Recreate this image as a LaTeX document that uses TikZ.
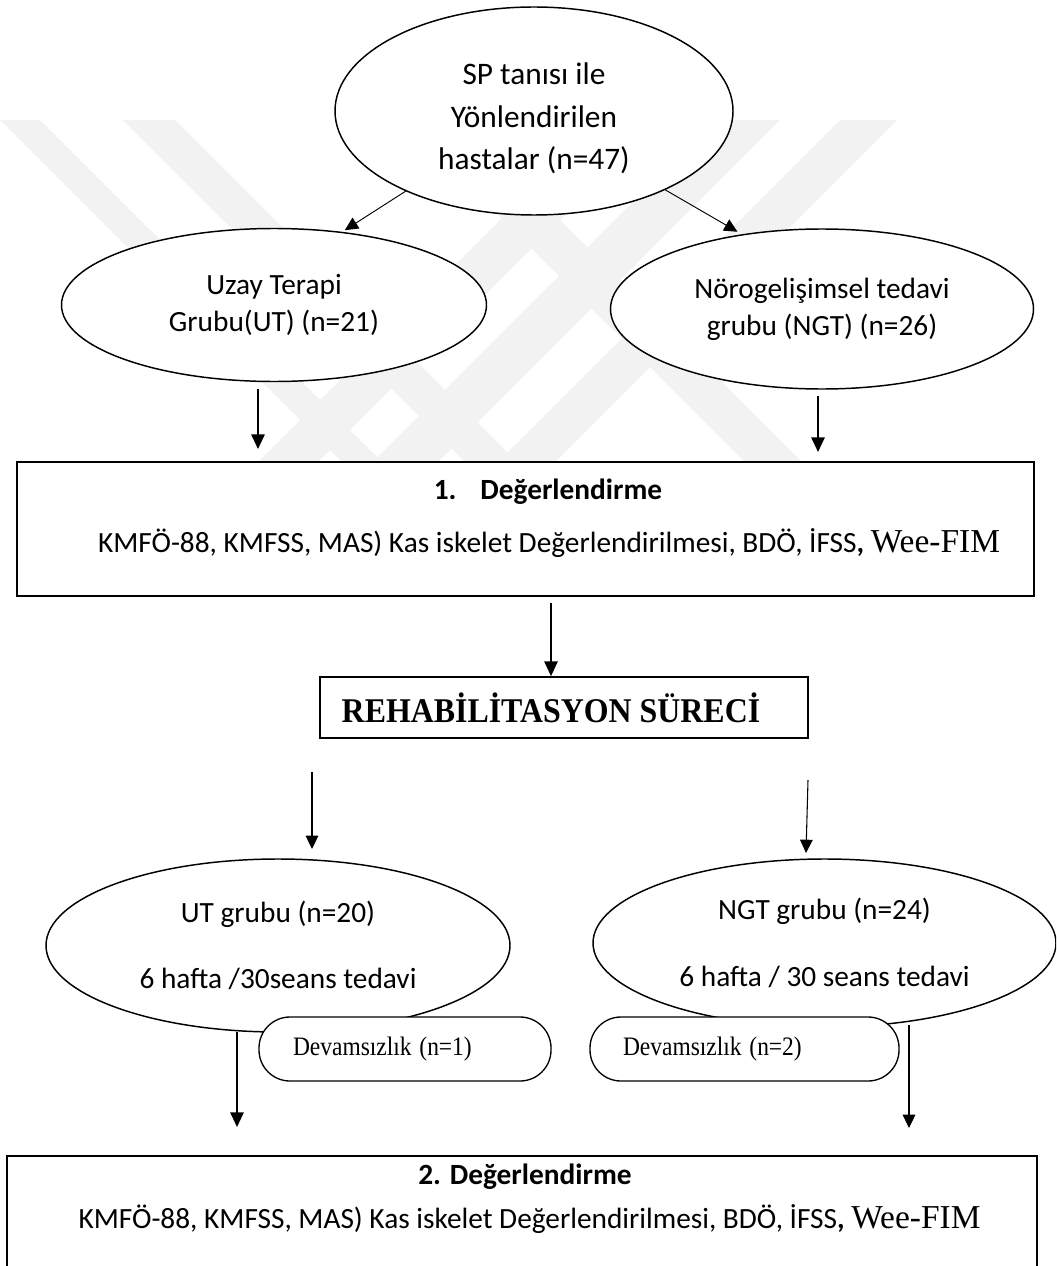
\documentclass[tikz,border=0pt]{standalone}
\usepackage{fontspec}
\setmainfont{Carlito}
\newfontfamily\tnr{Liberation Serif}
\usetikzlibrary{shapes.geometric,arrows.meta}
\newlength{\px}\setlength{\px}{0.75pt}
\begin{document}
\begin{tikzpicture}[x=0.75pt,y=-0.75pt,
  ell/.style={ellipse, draw, line width=1.1pt, fill=white, inner sep=0pt, align=center},
  boxs/.style={rectangle, draw, line width=1.5pt, fill=white, inner sep=0pt},
  txt/.style={inner sep=0pt, align=center},
  dev/.style={rectangle, rounded corners=31\px, draw, line width=1pt, fill=white, align=left, inner ysep=0pt, font=\tnr\fontsize{20pt}{24pt}\selectfont},
  arr/.style={-{Triangle[length=11pt,width=10pt]}, line width=1.4pt},
  arrthin/.style={-{Triangle[length=10pt,width=9.5pt]}, line width=0.7pt},
  wm/.style={fill=black!5, draw=none},
  cal/.style={font=\fontsize{22pt}{27.75pt}\selectfont}
]
\useasboundingbox (0,0) rectangle (1056,1266);
\clip (0,0) rectangle (1056,1266);

% faint watermark
\begin{scope}
\clip (0,120) rectangle (1056,500);
\foreach \a/\b in {0/40,123/175,403/460}
  \fill[wm] (\a,120) -- (\b,120) -- (\b+380,500) -- (\a+380,500) -- cycle;
\foreach \a/\b in {600/660,715/780,840/897}
  \fill[wm] (\a,120) -- (\b,120) -- (\b-380,500) -- (\a-380,500) -- cycle;
\end{scope}

% top level
\node[ell, minimum width=398\px, minimum height=208\px, font=\fontsize{23.5pt}{32pt}\selectfont] (top) at (534,111) {\rule{0pt}{37\px}SP tanısı ile\\Yönlendirilen\\hastalar (n=47)};
\node[ell, cal, minimum width=425\px, minimum height=153\px] (ut1) at (274,305) {Uzay Terapi\\Grubu(UT) (n=21)};
\node[ell, cal, minimum width=423\px, minimum height=160\px] (ngt1) at (822,309) {Nörogelişimsel tedavi\\grubu (NGT) (n=26)};
\draw[arrthin, shorten >=3\px] (top.212) -- (ut1.47);
\draw[arrthin, shorten >=5\px] (top.329) -- (ngt1.137);

% first evaluation
\node[boxs, minimum width=1017\px, minimum height=134\px] (eval1) at (525.5,529) {};
\node[txt, font=\fontsize{22pt}{26pt}\selectfont\bfseries] (eval1t) at (548,492) {1.\hspace{24\px}Değerlendirme};
\node[txt, font=\fontsize{22pt}{26pt}\selectfont] (eval1l) at (549,543) {KMFÖ-88, KMFSS, MAS) Kas iskelet Değerlendirilmesi, BDÖ, İFSS\textbf{,} {\tnr\scalebox{1.14}{Wee-FIM}}};

\coordinate (a1s) at (258,389);
\coordinate (a1e) at (258,449);
\coordinate (a2s) at (818,396);
\coordinate (a2e) at (818,452);
\draw[arr] (a1s) -- (a1e);
\draw[arr] (a2s) -- (a2e);

% rehabilitation
\node[boxs, line width=1.3pt, minimum width=488\px, minimum height=61\px] (rehab) at (564,707.5) {};
\node[txt, font=\tnr\bfseries\fontsize{26pt}{30pt}\selectfont] (rehabt) at (551,708) {\scalebox{0.92}[1]{REHABİLİTASYON SÜRECİ}};
\coordinate (a3s) at (551,603);
\draw[arr, line width=1.1pt] (a3s) -- (a3s |- rehab.north);

% second level
\node[ell, minimum width=464\px, minimum height=173\px, font=\fontsize{22pt}{50pt}\selectfont] (ut2) at (278,945.5) {UT grubu (n=20)\\6 hafta /30seans tedavi};
\node[ell, minimum width=463\px, minimum height=168\px, font=\fontsize{22pt}{50pt}\selectfont] (ngt2) at (824.5,943) {NGT grubu (n=24)\\6 hafta / 30 seans tedavi};

\coordinate (a4s) at (312,772);
\coordinate (a4e) at (312,849);
\coordinate (a5s) at (808,780);
\coordinate (a5e) at (806,853);
\draw[arrthin, line width=0.8pt] (a4s) -- (a4e);
\draw[arrthin, line width=0.8pt] (a5s) -- (a5e);

\node[dev, text width=224\px, inner xsep=34\px, minimum height=64\px] (dev1) at (405,1049) {\scalebox{0.88}[1]{Devamsızlık (n=1)}};
\node[dev, text width=243\px, inner xsep=33\px, minimum height=64\px] (dev2) at (744.5,1049) {\scalebox{0.88}[1]{Devamsızlık (n=2)}};

\coordinate (a6s) at (237,1032);
\coordinate (a6e) at (237,1127);
\coordinate (a7s) at (909,1025);
\coordinate (a7e) at (909,1128);
\draw[arr] (a6s) -- (a6e);
\draw[arrthin, line width=0.8pt] (a7s) -- (a7e);

% second evaluation
\node[boxs, minimum width=1030\px, minimum height=160\px] (eval2) at (522,1236) {};
\node[txt, font=\fontsize{22pt}{26pt}\selectfont\bfseries] (eval2t) at (525,1177) {2. Değerlendirme};
\node[txt, font=\fontsize{22pt}{26pt}\selectfont] (eval2l) at (529.5,1219) {KMFÖ-88, KMFSS, MAS) Kas iskelet Değerlendirilmesi, BDÖ, İFSS\textbf{,} {\tnr\scalebox{1.14}{Wee-FIM}}};
\end{tikzpicture}
\end{document}
